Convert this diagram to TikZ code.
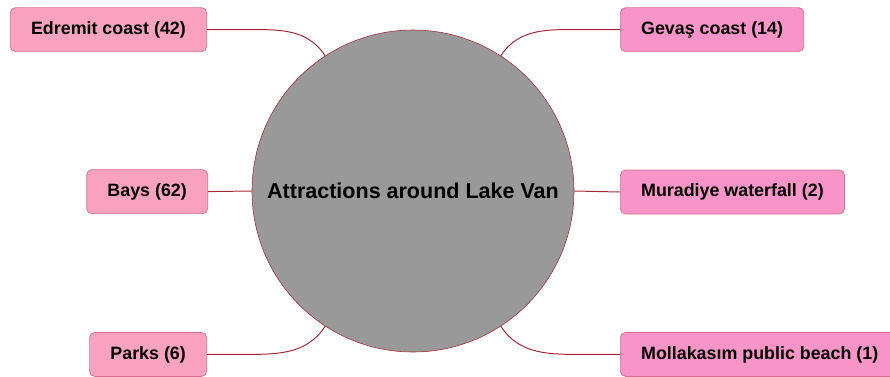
\documentclass[tikz,border=0pt]{standalone}
\usepackage{fontspec}
\setmainfont{Liberation Sans}
\usepackage{xcolor}
\usetikzlibrary{positioning}
\definecolor{boxpinkL}{RGB}{248,162,192}
\definecolor{boxpinkR}{RGB}{249,148,200}
\definecolor{boxedge}{RGB}{215,110,145}
\definecolor{linkred}{RGB}{165,40,55}
\definecolor{lakegray}{RGB}{153,153,153}

\begin{document}
\begin{tikzpicture}[font=\fontsize{12.7}{15}\selectfont\bfseries,
  spot/.style={draw=boxedge, line width=0.5pt, rounded corners=0.13cm,
    minimum height=1.1cm, inner xsep=0.52cm, inner ysep=0pt},
  spotL/.style={spot, fill=boxpinkL, anchor=east},
  spotR/.style={spot, fill=boxpinkR, anchor=west},
  link/.style={draw=linkred, line width=0.7pt}]
\useasboundingbox (0,0) rectangle (22.25,-9.4);
\node[circle, fill=lakegray, draw=linkred, line width=0.4pt, minimum size=8.05cm, inner sep=0pt,
  font=\fontsize{15.3}{18}\selectfont\bfseries] (lake) at (10.325,-4.775) {Attractions around Lake Van};
\node[spotL] (edremit) at (5.175,-0.74) {Edremit coast (42)};
\node[spotL] (bays) at (5.2,-4.79) {Bays (62)};
\node[spotL] (parks) at (5.175,-8.86) {Parks (6)};
\node[spotR] (gevas) at (15.5,-0.74) {Gevaş coast (14)};
\node[spotR] (muradiye) at (15.5,-4.8) {Muradiye waterfall (2)};
\node[spotR] (mollakasim) at (15.5,-8.86) {Mollakasım public beach (1)};
\draw[link] (edremit.east) -- ++(0.9,0) to[out=0,in=123] (lake.123);
\draw[link] (bays.east) -- (lake.west);
\draw[link] (parks.east) -- ++(0.9,0) to[out=0,in=-123] (lake.-123);
\draw[link] (gevas.west) -- ++(-0.9,0) to[out=180,in=57] (lake.57);
\draw[link] (muradiye.west) -- (lake.east);
\draw[link] (mollakasim.west) -- ++(-0.9,0) to[out=180,in=-57] (lake.-57);
\end{tikzpicture}
\end{document}
